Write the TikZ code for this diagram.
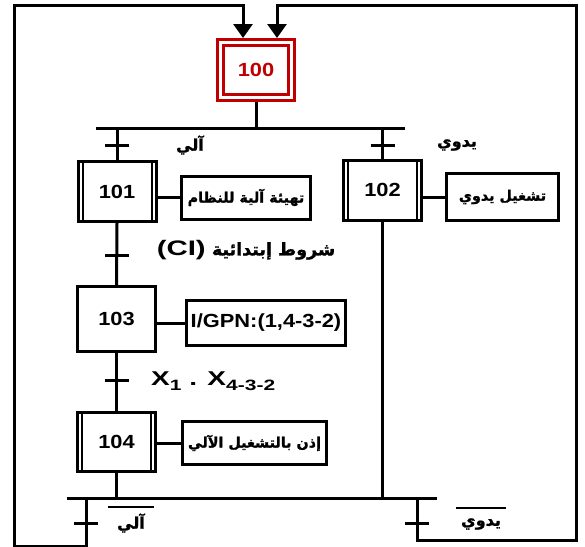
\documentclass[tikz,border=0pt]{standalone}
\usepackage{fontspec}
\setmainfont{Liberation Sans}
\newfontfamily\latf[FakeStretch=1.15]{Liberation Sans}
\newfontfamily\latw[FakeStretch=1.4]{Liberation Sans}
\newfontfamily\arabicfont[Script=Arabic,BoldFeatures={FakeBold=1.2}]{DejaVu Sans}
\TeXXeTstate=1
\usetikzlibrary{arrows.meta}
\definecolor{stepred}{RGB}{192,0,0}
\begin{document}
\begin{tikzpicture}[x=1pt,y=-1pt,
  ln/.style={line width=3pt},
  arr/.style={line width=3pt,-{Triangle[width=19pt,length=14pt]}},
  stepbox/.style={draw,line width=3pt,minimum width=78pt,minimum height=60pt,inner sep=0pt,
    font=\latf\bfseries\fontsize{19}{22}\selectfont},
  actbox/.style={draw,line width=3pt,inner sep=0pt,
    font=\arabicfont\bfseries\fontsize{14.3}{16}\selectfont},
  arlbl/.style={inner sep=0pt,font=\arabicfont\bfseries\fontsize{16}{18}\selectfont},
  bar/.style={line width=2pt}
]
\useasboundingbox (0,0) rectangle (585,546);

% initial step
\node[draw=stepred,double=white,line width=3pt,double distance=3pt,outer sep=4.5pt,
  minimum width=71pt,minimum height=55pt,text=stepred,
  font=\latf\bfseries\fontsize{19}{22}\selectfont] (s100) at (256,70) {100};

% steps
\node[stepbox] (s101) at (117,191.5) {101};
\node[stepbox] (s102) at (382.5,190) {102};
\node[stepbox,minimum height=65pt] (s103) at (116.5,319) {103};
\node[stepbox,minimum height=59pt] (s104) at (116.5,442) {104};
\foreach \s in {s101,s102,s104}{
  \draw[bar] ([xshift=6pt,yshift=-1.5pt]\s.north west) -- ([xshift=6pt,yshift=1.5pt]\s.south west);
  \draw[bar] ([xshift=-6pt,yshift=-1.5pt]\s.north east) -- ([xshift=-6pt,yshift=1.5pt]\s.south east);
}

% actions
\node[actbox,minimum width=129pt,minimum height=43pt] (a101) at (246,197.5) {\beginR تهيئة آلية للنظام\endR};
\node[actbox,minimum width=112pt,minimum height=47pt] (a102) at (502.5,197) {\beginR تشغيل يدوي\endR};
\node[draw,line width=3pt,inner sep=0pt,minimum width=159pt,minimum height=45pt,
  font=\latf\bfseries\fontsize{19}{20}\selectfont] (a103) at (266,323) {I/GPN:(1,4-3-2)};
\node[actbox,minimum width=144pt,minimum height=43pt] (a104) at (254.5,443) {\beginR إذن بالتشغيل الآلي\endR};

\foreach \s/\a in {s101/a101,s102/a102,s103/a103,s104/a104}{
  \draw[ln] (\s.east |- \a.west) -- (\a.west);
}

% coordinates
\coordinate (tbL) at (96,128);
\coordinate (tbR) at (405,128);
\coordinate (bbL) at (67,498);
\coordinate (bbR) at (437,498);
\coordinate (lbr) at (86,498);
\coordinate (rbr) at (417,498);
\coordinate (lc) at (14,546.5);
\coordinate (rc) at (576,540);
\coordinate (in1) at (243,5);
\coordinate (in2) at (277,5);

% top divergence
\draw[ln] (s100.south) -- (s100.south |- tbL);
\draw[ln] (tbL) -- (tbR);
\draw[ln] (s101.north |- tbL) -- (s101.north);
\draw[ln] (s102.north |- tbL) -- (s102.north);
\draw[ln] (s101.south) -- (s103.north);
\draw[ln] (s103.south) -- (s104.north);

% bottom convergence
\draw[ln] (s104.south) -- (s104.south |- bbL);
\draw[ln] (s102.south) -- (s102.south |- bbL);
\draw[ln] (bbL) -- (bbR);

% loops
\draw[arr] (lbr) -- (lbr |- lc) -- (lc) -- (lc |- in1) -- (in1) -- (in1 |- s100.north);
\draw[arr] (rbr) -- (rbr |- rc) -- (rc) -- (rc |- in2) -- (in2) -- (in2 |- s100.north);

% transitions ticks
\foreach \p in {(117,145),(382.5,145),(117,255),(116.5,380),(86,523),(417,523)}{
  \draw[ln] \p ++(-12,0) -- ++(24,0);
}

% transition labels
\node[arlbl] (t1) at (190,145) {\beginR آلي\endR};
\node[arlbl] (t2) at (457,145) {\beginR يدوي\endR};
\node[inner sep=0pt] (t3) at (246,250) {\arabicfont\bfseries\fontsize{17.5}{20}\selectfont\beginR شروط إبتدائية \beginL{\latw\bfseries\fontsize{21}{22}\selectfont(CI)}\endL\endR};
\node[inner sep=0pt,anchor=west,font=\latw\bfseries\fontsize{20}{22}\selectfont] (t4) at (151,381)
  {X\raisebox{-4.5pt}{\fontsize{15}{15}\selectfont 1} . X\raisebox{-4.5pt}{\fontsize{15}{15}\selectfont 4-3-2}};
\node[arlbl,minimum width=46pt,minimum height=32pt] (t5) at (131,523) {\beginR آلي\endR};
\node[arlbl,minimum width=50pt,minimum height=32pt] (t6) at (481,524) {\beginR يدوي\endR};
\draw[bar] (t5.north west) -- (t5.north east);
\draw[bar] (t6.north west) -- (t6.north east);
\end{tikzpicture}
\end{document}
